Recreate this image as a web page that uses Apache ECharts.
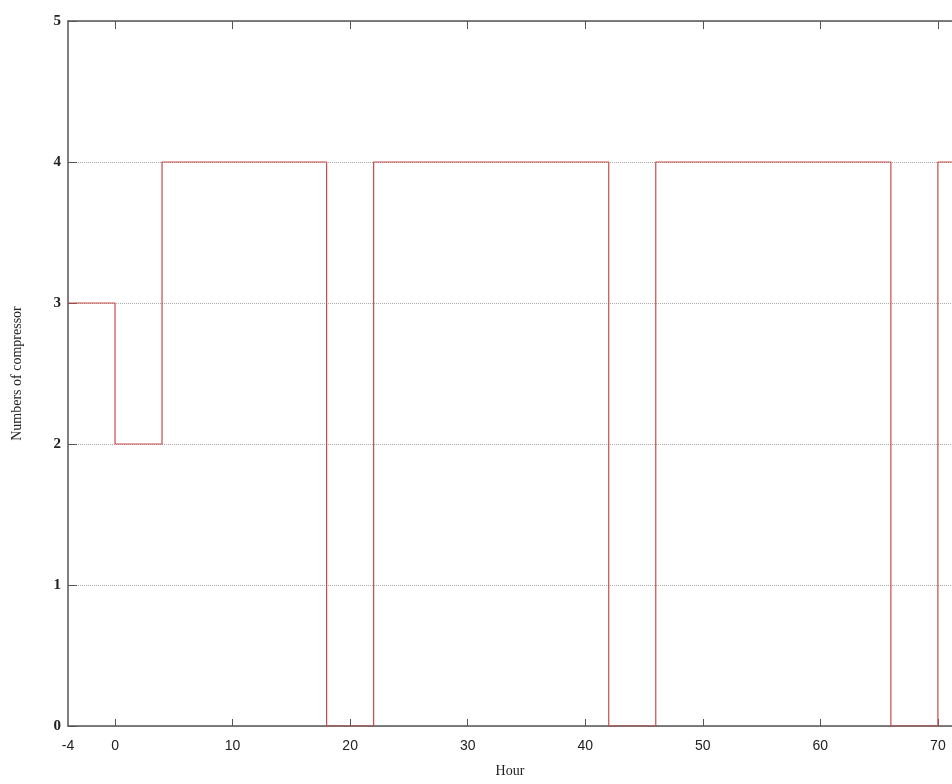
<!DOCTYPE html>
<html>
<head>
<meta charset="utf-8">
<script src="https://cdn.jsdelivr.net/npm/echarts@6/dist/echarts.min.js"></script>
<style>
html,body{margin:0;padding:0;background:#fff;}
#chart{width:952px;height:784px;}
</style>
</head>
<body>
<div id="chart"></div>
<script>
// Data
var switchHours = [-4, 0, 4, 18, 22, 42, 46, 66, 70, 72];
var compressors = [3, 2, 4, 0, 4, 0, 4, 0, 4, 4];
var xTickValues = [-4, 0, 10, 20, 30, 40, 50, 60, 70];
var xTopTicks = [0, 10, 20, 30, 40, 50, 60, 70];

var points = switchHours.map(function (h, i) { return [h, compressors[i]]; });

var chart = echarts.init(document.getElementById('chart'), null, {renderer: 'canvas'});
var axisColor = '#555';
chart.setOption({
  backgroundColor: '#fff',
  animation: false,
  grid: {left: 68, top: 21, right: 0, height: 705, containLabel: false},
  xAxis: [{
    type: 'value', min: -4, max: 71.2, position: 'bottom',
    name: 'Hour', nameLocation: 'middle', nameGap: 38,
    nameTextStyle: {fontFamily: 'Liberation Serif', fontSize: 14, color: '#222'},
    axisLine: {show: true, onZero: false, lineStyle: {color: axisColor, width: 1.5}},
    axisTick: {show: true, inside: true, length: 7, customValues: xTopTicks, lineStyle: {color: axisColor}},
    axisLabel: {customValues: xTickValues, fontFamily: 'Liberation Sans', fontSize: 14, color: '#222', margin: 13},
    splitLine: {show: false}
  }, {
    type: 'value', min: -4, max: 71.2, position: 'top',
    axisLine: {show: true, onZero: false, lineStyle: {color: axisColor, width: 1.5}},
    axisTick: {show: true, inside: true, length: 8, customValues: xTopTicks, lineStyle: {color: axisColor}},
    axisLabel: {show: false},
    splitLine: {show: false}
  }],
  yAxis: [{
    type: 'value', min: 0, max: 5, interval: 1,
    name: 'Numbers of compressor', nameLocation: 'middle', nameGap: 44, nameRotate: 90,
    nameTextStyle: {fontFamily: 'Liberation Serif', fontSize: 14, color: '#222'},
    axisLine: {show: true, onZero: false, lineStyle: {color: axisColor, width: 1.5}},
    axisTick: {show: true, inside: true, length: 9, lineStyle: {color: axisColor}},
    axisLabel: {fontFamily: 'Liberation Serif', fontSize: 15, fontWeight: 'bold', color: '#222', margin: 7},
    splitLine: {show: true, lineStyle: {color: '#aaa', type: 'dotted', width: 1}}
  }],
  series: [{
    type: 'line',
    step: 'end',
    data: points,
    showSymbol: false,
    symbol: 'none',
    lineStyle: {color: '#c84a4a', width: 1.2},
    clip: true
  }]
});
</script>
</body>
</html>
